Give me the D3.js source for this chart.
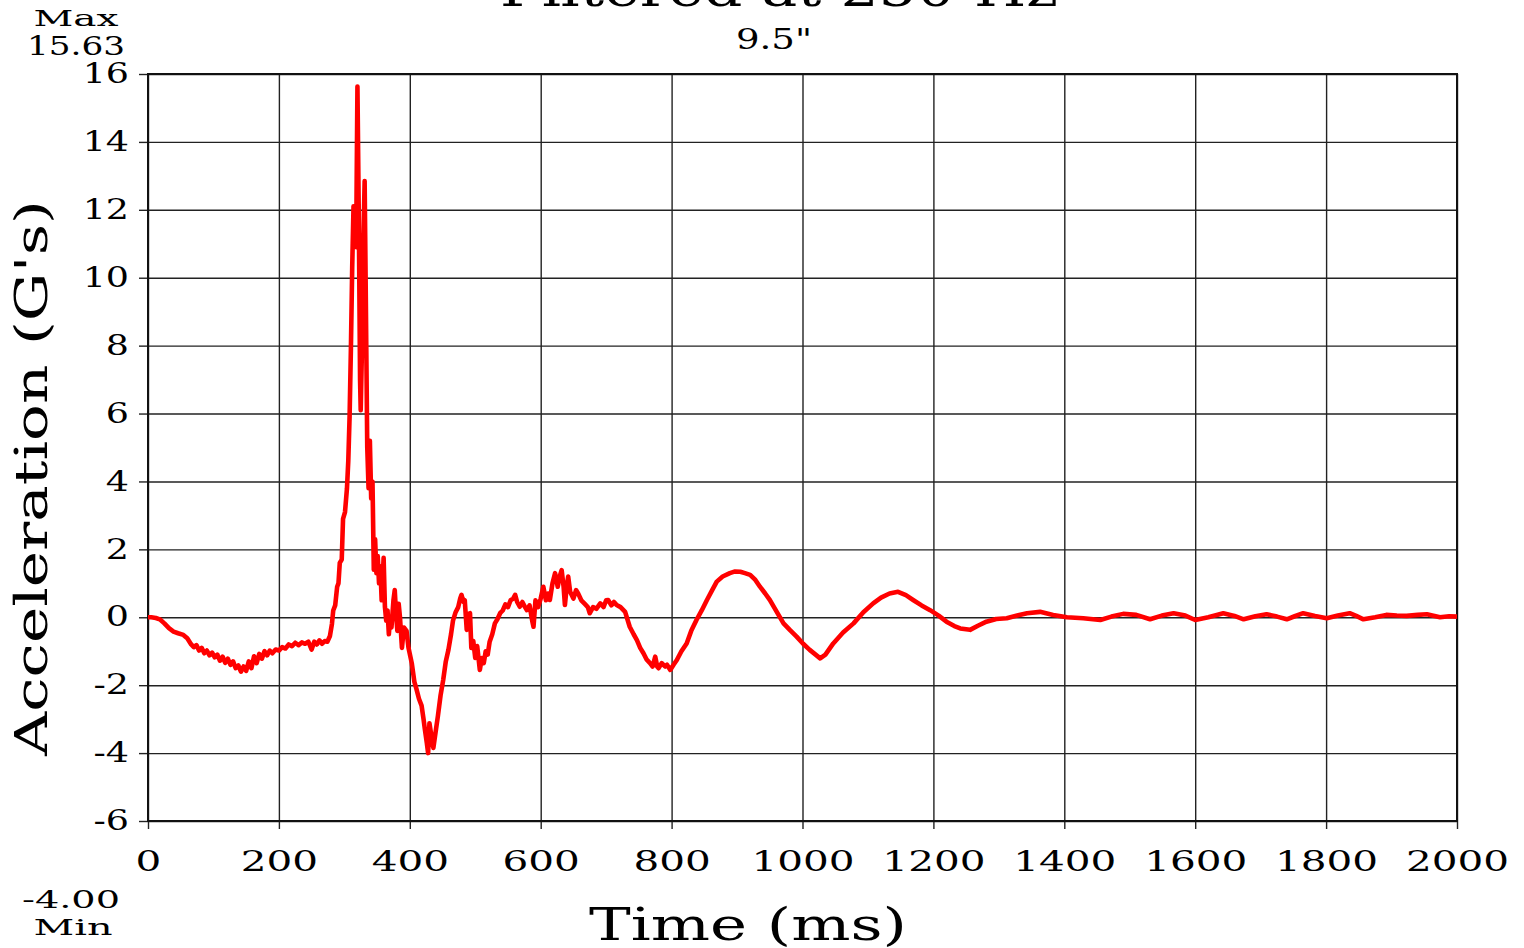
<!DOCTYPE html>
<html>
<head>
<meta charset="utf-8">
<script src="https://cdn.jsdelivr.net/npm/d3@7"></script>
<style>
  body { margin: 0; background: #fff; }
  svg { display: block; }
  text { font-family: "DejaVu Serif", serif; fill: #000; }
</style>
</head>
<body>
<div id="chart"></div>
<script>
const margin = {left: 148, right: 67, top: 74, bottom: 127};
const W = 1524, H = 948;

const timeMs = [0,5,12,18,25,32,39,46,54,60,66,70,74,78,82,86,90,94,98,102,106,110,114,118,122,126,130,134,138,142,146,150,154,158,162,166,170,174,178,182,186,190,195,200,205,210,215,220,225,230,235,240,245,250,254,258,262,266,270,274,278,281,283,286,289,291,293,296,298,301,304,306,308,310,312,314,316,318,320,322,324,325,327,329,331,333,335,337,339,341,343,345,347,349,351,353,355,357,360,362,364,366,368,370,372,375,377,379,381,383,385,388,391,395,398,403,407,410,414,418,421,423,426,428,430,433,436,440,443,447,451,455,459,463,466,470,474,477,479,482,484,487,490,492,494,497,500,503,507,510,513,516,519,522,526,530,534,538,542,546,550,554,558,561,564,568,572,576,579,583,587,589,592,596,600,604,608,611,614,618,622,626,629,632,635,637,640,642,645,650,654,657,662,667,672,675,680,685,691,696,700,703,708,712,716,722,729,736,742,747,752,757,762,767,771,775,778,780,785,790,793,798,803,808,815,823,830,838,846,854,862,869,878,889,897,905,912,920,928,935,943,950,960,971,981,991,1001,1011,1020,1027,1035,1047,1062,1078,1093,1108,1120,1133,1146,1158,1169,1182,1195,1208,1220,1232,1241,1256,1268,1281,1296,1312,1328,1343,1363,1383,1404,1429,1455,1472,1490,1510,1531,1549,1567,1585,1600,1620,1643,1660,1674,1692,1709,1725,1740,1752,1765,1783,1801,1818,1836,1846,1857,1875,1892,1908,1923,1940,1954,1974,1988,2000];
const accelG = [0,0,-0.02,-0.06,-0.18,-0.32,-0.42,-0.47,-0.52,-0.62,-0.8,-0.88,-0.82,-0.98,-0.9,-1.06,-0.98,-1.12,-1.04,-1.18,-1.1,-1.28,-1.16,-1.34,-1.22,-1.4,-1.3,-1.5,-1.42,-1.6,-1.45,-1.58,-1.3,-1.5,-1.15,-1.35,-1.08,-1.22,-1.0,-1.12,-0.98,-1.06,-0.95,-0.98,-0.88,-0.92,-0.8,-0.85,-0.75,-0.82,-0.74,-0.78,-0.72,-0.95,-0.72,-0.8,-0.68,-0.78,-0.7,-0.72,-0.55,-0.2,0.2,0.35,0.9,1.0,1.6,1.7,2.9,3.1,3.8,4.6,5.9,7.9,10.3,12.1,11.5,10.9,15.63,12,7,6.1,8,11,12.85,9,5.0,3.8,5.2,3.5,4.0,1.4,2.3,1.3,1.8,1.0,1.5,0.5,1.75,0.3,-0.1,0.2,-0.5,0.0,-0.3,0.5,0.8,0.1,-0.4,0.4,0.0,-0.9,-0.3,-0.4,-0.9,-1.35,-1.9,-2.1,-2.4,-2.6,-3.0,-3.3,-3.7,-4.0,-3.12,-3.5,-3.85,-3.3,-2.9,-2.3,-1.85,-1.3,-0.96,-0.5,-0.1,0.15,0.3,0.55,0.66,0.45,0.5,-0.37,0.1,0.12,-0.9,-0.7,-1.2,-0.85,-1.55,-1.2,-1.35,-1.0,-1.1,-0.72,-0.5,-0.18,-0.05,0.12,0.2,0.38,0.3,0.5,0.55,0.66,0.45,0.31,0.45,0.3,0.21,0.35,-0.1,-0.28,0.5,0.3,0.55,0.9,0.5,0.7,0.51,1.0,1.3,0.9,1.2,1.39,0.9,0.36,0.95,1.2,0.75,0.55,0.8,0.71,0.5,0.4,0.3,0.12,0.3,0.25,0.41,0.3,0.5,0.51,0.35,0.45,0.36,0.3,0.16,-0.28,-0.5,-0.67,-0.9,-1.06,-1.25,-1.35,-1.45,-1.16,-1.45,-1.5,-1.35,-1.45,-1.4,-1.55,-1.4,-1.26,-1.0,-0.77,-0.4,-0.08,0.2,0.51,0.8,1.05,1.2,1.3,1.35,1.34,1.3,1.25,1.1,0.9,0.7,0.51,0.18,-0.18,-0.38,-0.57,-0.78,-0.96,-1.1,-1.21,-1.1,-0.77,-0.45,-0.18,0.15,0.41,0.58,0.7,0.75,0.65,0.51,0.35,0.21,0.05,-0.13,-0.26,-0.33,-0.37,-0.25,-0.13,-0.05,-0.03,0.05,0.12,0.16,0.07,0.0,-0.03,-0.08,0.02,0.1,0.07,-0.06,0.05,0.12,0.05,-0.08,0.0,0.12,0.04,-0.06,0.03,0.09,0.02,-0.06,0.03,0.12,0.04,-0.03,0.05,0.12,0.04,-0.06,0.0,0.07,0.05,0.04,0.07,0.09,0.0,0.03,0.02];
const xTicks = [0,200,400,600,800,1000,1200,1400,1600,1800,2000];
const yTicks = [-6,-4,-2,0,2,4,6,8,10,12,14,16];

const innerWidth = W - margin.left - margin.right;
const innerHeight = H - margin.top - margin.bottom;

const svg = d3.select("#chart").append("svg")
    .attr("width", W).attr("height", H);

const xScale = d3.scaleLinear().domain([0, 2000]).range([0, innerWidth]);
const yScale = d3.scaleLinear().domain([-6, 16]).range([innerHeight, 0]);

const g = svg.append("g")
    .attr("transform", `translate(${margin.left}, ${margin.top})`);

// grid
g.append("g")
    .call(d3.axisBottom(xScale).tickValues(xTicks).tickSize(innerHeight).tickFormat(""))
    .call(a => a.select(".domain").remove())
    .selectAll("line").attr("stroke", "#222").attr("stroke-width", 1.4);
g.append("g")
    .call(d3.axisLeft(yScale).tickValues(yTicks).tickSize(-innerWidth).tickFormat(""))
    .call(a => a.select(".domain").remove())
    .selectAll("line").attr("stroke", "#222").attr("stroke-width", 1.4);

// wide lettering: stretch each label instead of transforming it
function stretch(sel, k) {
  sel.attr("lengthAdjust", "spacingAndGlyphs")
     .attr("textLength", function() { return this.getComputedTextLength() * k; });
}

// axes
const yAx = g.append("g")
    .call(d3.axisLeft(yScale).tickValues(yTicks).tickSize(9).tickFormat(d => d < 0 ? "-" + (-d) : d))
    .call(a => a.select(".domain").remove());
yAx.selectAll("line").attr("stroke", "#222").attr("stroke-width", 1.4);
yAx.selectAll("text")
    .attr("x", -19)
    .attr("font-size", 27)
    .attr("font-family", "DejaVu Serif")
    .attr("fill", "#000")
    .attr("text-anchor", "end")
    .call(stretch, 1.35);

const xAx = g.append("g")
    .attr("transform", `translate(0, ${innerHeight})`)
    .call(d3.axisBottom(xScale).tickValues(xTicks).tickSize(8).tickFormat(d3.format("d")))
    .call(a => a.select(".domain").remove());
xAx.selectAll("line").attr("stroke", "#222").attr("stroke-width", 1.4);
xAx.selectAll("text")
    .attr("y", 31)
    .attr("font-size", 27)
    .attr("font-family", "DejaVu Serif")
    .attr("fill", "#000")
    .call(stretch, 1.5);

g.append("rect")
    .attr("width", innerWidth).attr("height", innerHeight)
    .attr("fill", "none").attr("stroke", "#111").attr("stroke-width", 2);

// series
const pts = timeMs.map((t, i) => ({t: t, v: accelG[i]}));
const line = d3.line().x(d => xScale(d.t)).y(d => yScale(d.v));
g.append("path")
    .datum(pts)
    .attr("d", line)
    .attr("fill", "none")
    .attr("stroke", "#ff0000")
    .attr("stroke-width", 4.6)
    .attr("stroke-linejoin", "round");

// texts
function label(txt, x, y, size, len, opts) {
  opts = opts || {};
  const t = svg.append("text")
      .attr("x", x).attr("y", y)
      .attr("font-size", size)
      .attr("text-anchor", "middle")
      .attr("textLength", len)
      .attr("lengthAdjust", "spacingAndGlyphs")
      .text(txt);
  if (opts.rotate) t.attr("transform", `rotate(-90, ${x}, ${y})`);
  return t;
}
label("Filtered at 250 Hz", 779, 6, 46, 558);
label("9.5\"", 774, 49, 27, 76);
label("Max", 76, 26, 22, 85);
label("15.63", 76, 55, 26, 98);
label("-4.00", 71, 908, 24, 98);
label("Min", 73, 935, 22, 79);
label("Time (ms)", 748, 940, 45, 318);
label("Acceleration (G's)", 47, 478, 45, 556, {rotate: true});
</script>
</body>
</html>
